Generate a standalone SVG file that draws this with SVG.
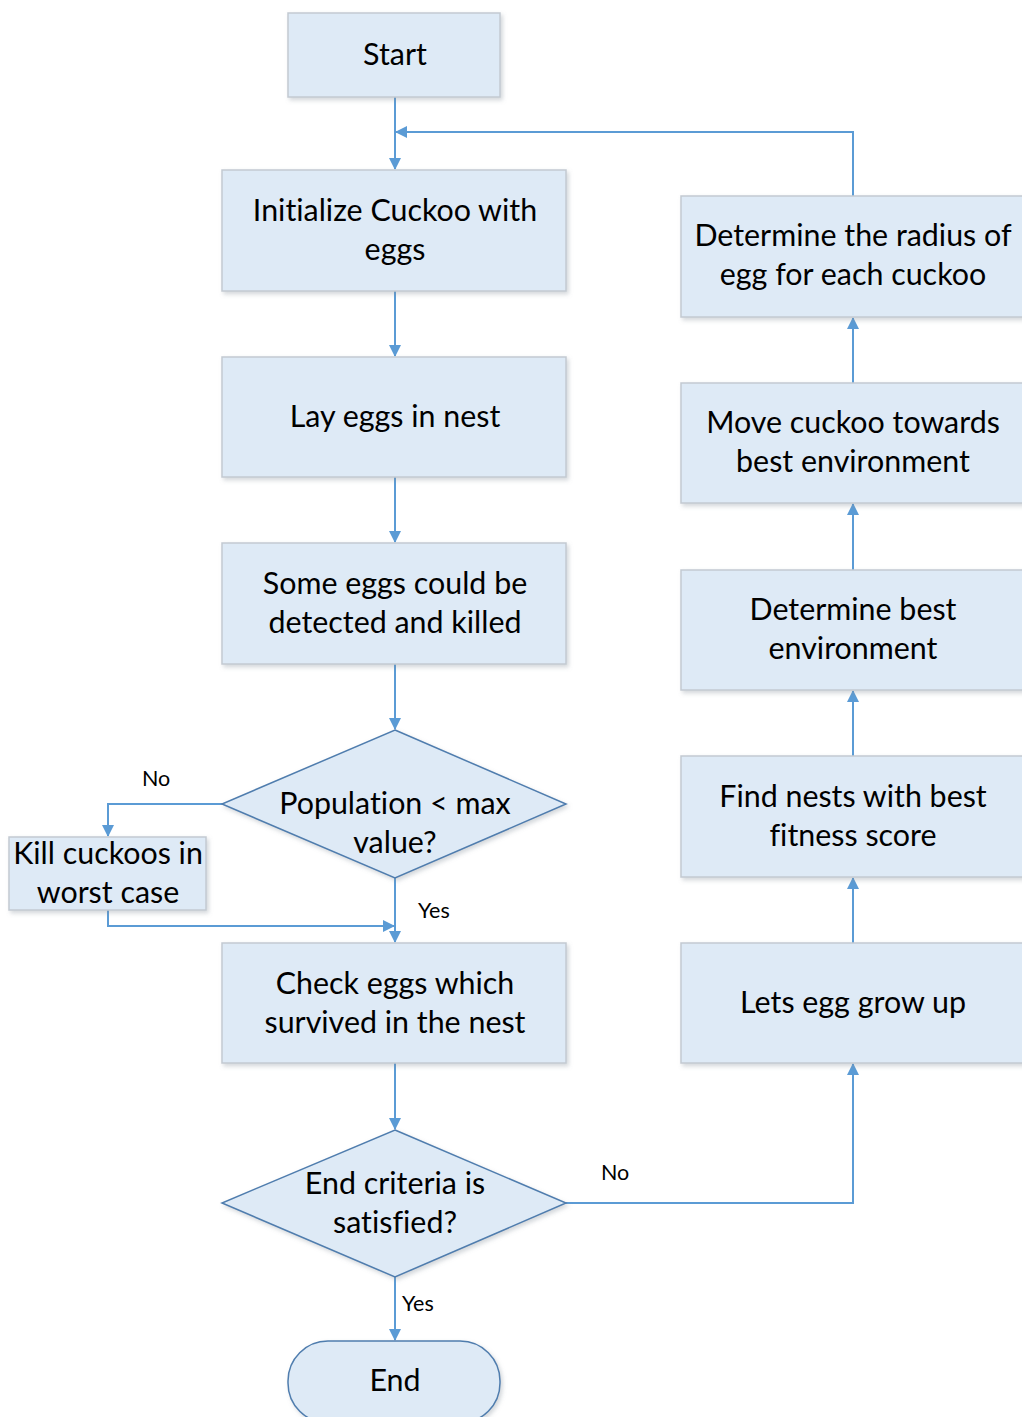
<svg xmlns="http://www.w3.org/2000/svg" width="1022" height="1417" viewBox="0 0 1022 1417">
  <style>
    .box { fill: #DEEAF6; stroke: #C3CAD2; stroke-width: 1.5; filter: url(#shadow); }
    .dec { fill: #DEEAF6; stroke: #4F7DAE; stroke-width: 1.5; filter: url(#shadow); }
    .lbl { font-family: Lato, "Liberation Sans", sans-serif; font-size: 30.4px; fill: #000; text-anchor: middle; font-variant-ligatures: none; }
    .small { font-family: Lato, "Liberation Sans", sans-serif; font-size: 21.5px; fill: #000; }
    .wire { fill: none; stroke: #5B9BD5; stroke-width: 2; }
  </style>
  <defs>
    <filter id="shadow" x="-10%" y="-10%" width="125%" height="130%">
      <feDropShadow dx="2" dy="2.5" stdDeviation="2" flood-color="#7f8a95" flood-opacity="0.35"/>
    </filter>
    <marker id="arrow" viewBox="0 0 12 12" refX="11" refY="6" markerWidth="12" markerHeight="12" markerUnits="userSpaceOnUse" orient="auto">
      <path d="M0,0 L12,6 L0,12 Z" fill="#5B9BD5"/>
    </marker>
  </defs>

  <rect width="1022" height="1417" fill="#fff"/>

  <!-- connectors -->
  <g id="connectors">
    <path class="wire" d="M395,97 V169" marker-end="url(#arrow)"/>
    <path class="wire" d="M853,196 V132 H396" marker-end="url(#arrow)"/>
    <path class="wire" d="M395,291 V356" marker-end="url(#arrow)"/>
    <path class="wire" d="M395,477 V542" marker-end="url(#arrow)"/>
    <path class="wire" d="M395,664 V729" marker-end="url(#arrow)"/>
    <path class="wire" d="M222,804 H108 V836" marker-end="url(#arrow)"/>
    <path class="wire" d="M108,910 V926 H394" marker-end="url(#arrow)"/>
    <path class="wire" d="M395,878 V942" marker-end="url(#arrow)"/>
    <path class="wire" d="M395,1063 V1129" marker-end="url(#arrow)"/>
    <path class="wire" d="M566,1203 H853 V1064" marker-end="url(#arrow)"/>
    <path class="wire" d="M395,1277 V1340" marker-end="url(#arrow)"/>
    <path class="wire" d="M853,943 V878" marker-end="url(#arrow)"/>
    <path class="wire" d="M853,756 V691" marker-end="url(#arrow)"/>
    <path class="wire" d="M853,570 V504" marker-end="url(#arrow)"/>
    <path class="wire" d="M853,383 V318" marker-end="url(#arrow)"/>
    <text class="small" x="142" y="786">No</text>
    <text class="small" x="418" y="918">Yes</text>
    <text class="small" x="601" y="1180">No</text>
    <text class="small" x="402" y="1311">Yes</text>
  </g>

  <!-- left column -->
  <g id="start">
    <rect class="box" x="288" y="13" width="212" height="84"/>
    <text class="lbl" x="395" y="65">Start</text>
  </g>
  <g id="init">
    <rect class="box" x="222" y="170" width="344" height="121"/>
    <text class="lbl" x="395" y="221">Initialize Cuckoo with</text>
    <text class="lbl" x="395" y="260">eggs</text>
  </g>
  <g id="lay">
    <rect class="box" x="222" y="357" width="344" height="120"/>
    <text class="lbl" x="395" y="427">Lay eggs in nest</text>
  </g>
  <g id="detect">
    <rect class="box" x="222" y="543" width="344" height="121"/>
    <text class="lbl" x="395" y="594">Some eggs could be</text>
    <text class="lbl" x="395" y="633">detected and killed</text>
  </g>
  <g id="population">
    <path class="dec" d="M395,730 L566,804 L395,878 L222,804 Z"/>
    <text class="lbl" x="395" y="814">Population &lt; max</text>
    <text class="lbl" x="395" y="853">value?</text>
  </g>
  <g id="kill">
    <rect class="box" x="9" y="837" width="197" height="73"/>
    <text class="lbl" x="108" y="864">Kill cuckoos in</text>
    <text class="lbl" x="108" y="903">worst case</text>
  </g>
  <g id="check">
    <rect class="box" x="222" y="943" width="344" height="120"/>
    <text class="lbl" x="395" y="994">Check eggs which</text>
    <text class="lbl" x="395" y="1033">survived in the nest</text>
  </g>
  <g id="endcheck">
    <path class="dec" d="M395,1130 L566,1203 L395,1277 L222,1203 Z"/>
    <text class="lbl" x="395" y="1194">End criteria is</text>
    <text class="lbl" x="395" y="1233">satisfied?</text>
  </g>
  <g id="end">
    <rect class="dec" x="288" y="1341" width="212" height="82" rx="40" ry="40"/>
    <text class="lbl" x="395" y="1391">End</text>
  </g>

  <!-- right column -->
  <g id="radius">
    <rect class="box" x="681" y="196" width="344" height="121"/>
    <text class="lbl" x="853" y="246">Determine the radius of</text>
    <text class="lbl" x="853" y="285">egg for each cuckoo</text>
  </g>
  <g id="move">
    <rect class="box" x="681" y="383" width="344" height="120"/>
    <text class="lbl" x="853" y="433">Move cuckoo towards</text>
    <text class="lbl" x="853" y="472">best environment</text>
  </g>
  <g id="bestenv">
    <rect class="box" x="681" y="570" width="344" height="120"/>
    <text class="lbl" x="853" y="620">Determine best</text>
    <text class="lbl" x="853" y="659">environment</text>
  </g>
  <g id="nests">
    <rect class="box" x="681" y="756" width="344" height="121"/>
    <text class="lbl" x="853" y="807">Find nests with best</text>
    <text class="lbl" x="853" y="846">fitness score</text>
  </g>
  <g id="grow">
    <rect class="box" x="681" y="943" width="344" height="120"/>
    <text class="lbl" x="853" y="1013">Lets egg grow up</text>
  </g>
</svg>
